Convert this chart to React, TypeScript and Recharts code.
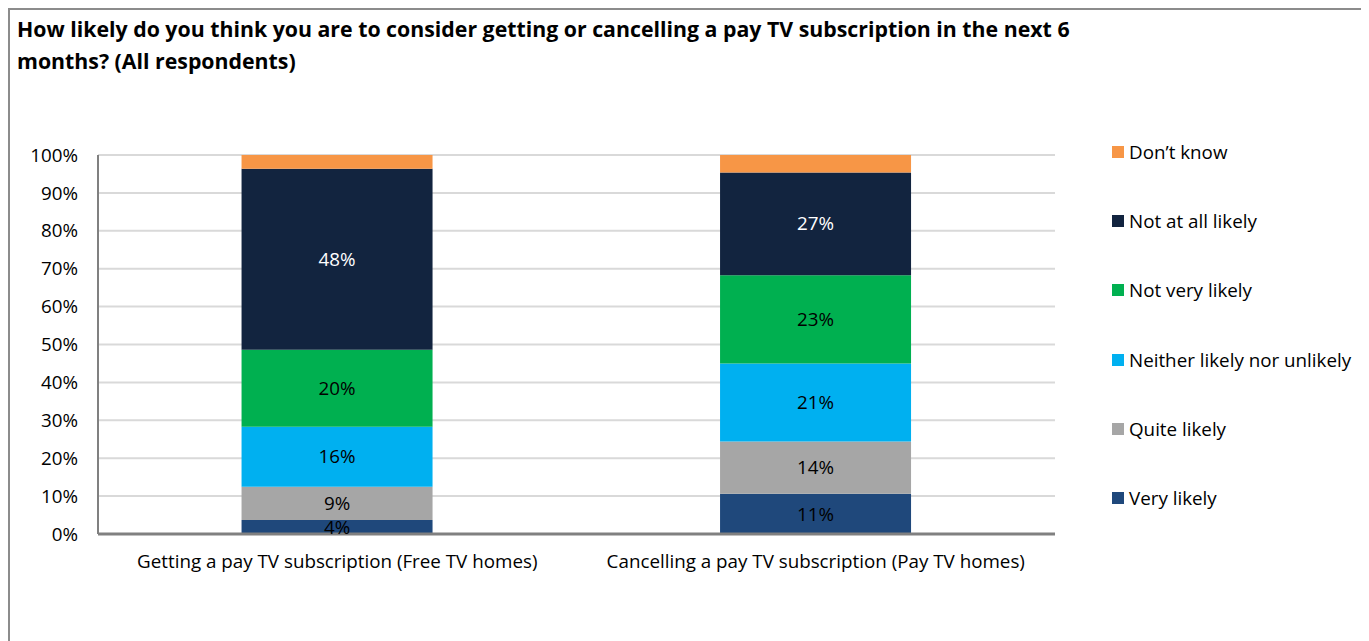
import { BarChart, Bar, XAxis, YAxis, CartesianGrid, LabelList } from 'recharts'

const CATEGORIES = [
  'Getting a pay TV subscription (Free TV homes)',
  'Cancelling a pay TV subscription (Pay TV homes)'
]

// stacked bottom to top
const VERY_LIKELY = [3.7, 10.6]
const QUITE_LIKELY = [8.8, 13.8]
const NEITHER = [15.8, 20.6]
const NOT_VERY = [20.3, 23.3]
const NOT_AT_ALL = [47.8, 27.1]
const DONT_KNOW = [3.6, 4.6]

const Y_TICKS = [0, 10, 20, 30, 40, 50, 60, 70, 80, 90, 100]

const SERIES = [
  { key: 'very', name: 'Very likely', values: VERY_LIKELY, color: '#1F487B', label: '#000000' },
  { key: 'quite', name: 'Quite likely', values: QUITE_LIKELY, color: '#A6A6A6', label: '#000000' },
  { key: 'neither', name: 'Neither likely nor unlikely', values: NEITHER, color: '#00B0F0', label: '#000000' },
  { key: 'notVery', name: 'Not very likely', values: NOT_VERY, color: '#00B050', label: '#000000' },
  { key: 'notAtAll', name: 'Not at all likely', values: NOT_AT_ALL, color: '#12243F', label: '#FFFFFF' },
  { key: 'dontKnow', name: 'Don\u2019t know', values: DONT_KNOW, color: '#F79646', label: null }
]

const data = CATEGORIES.map((name, i) => {
  const row: Record<string, string | number> = { name }
  SERIES.forEach(s => {
    row[s.key] = s.values[i]
  })
  return row
})

const FONT = '"Open Sans", Lato, sans-serif'
const FS = 18.8

const pct = (v: any) => `${Math.round(Number(v))}%`

export default function App() {
  return (
    <div
      style={{
        position: 'relative',
        width: 1352,
        height: 660,
        border: '2px solid #8c8c8c',
        fontFamily: FONT,
        background: '#fff'
      }}
    >
      <div
        style={{
          position: 'absolute',
          left: 7,
          top: 3,
          fontSize: 21.3,
          fontWeight: 700,
          lineHeight: '32px',
          color: '#000'
        }}
      >
        <div>How likely do you think you are to consider getting or cancelling a pay TV subscription in the next 6</div>
        <div>months? (All respondents)</div>
      </div>

      <div style={{ position: 'absolute', left: 0, top: 0 }}>
        <BarChart
          width={1352}
          height={620}
          data={data}
          margin={{ top: 145, right: 307, bottom: 56, left: 28 }}
          barCategoryGap='30%'
        >
          <CartesianGrid vertical={false} stroke='#D9D9D9' strokeWidth={2} />
          <XAxis
            dataKey='name'
            tickLine={false}
            axisLine={{ stroke: '#808080', strokeWidth: 3 }}
            tick={{ fill: '#000', fontSize: FS, fontFamily: FONT }}
            tickMargin={15}
            height={40}
          />
          <YAxis
            domain={[0, 100]}
            ticks={Y_TICKS}
            tickFormatter={(v: number) => `${v}%`}
            tickLine={false}
            axisLine={{ stroke: '#808080', strokeWidth: 2 }}
            tick={{ fill: '#000', fontSize: FS, fontFamily: FONT }}
            tickMargin={14}
            width={60}
            interval={0}
          />
          {SERIES.map(s => (
            <Bar key={s.key} dataKey={s.key} name={s.name} stackId='a' fill={s.color} isAnimationActive={false}>
              {s.label && (
                <LabelList
                  dataKey={s.key}
                  position='center'
                  formatter={pct}
                  fill={s.label}
                  style={{ fontSize: FS, fontFamily: FONT, fill: s.label }}
                />
              )}
            </Bar>
          ))}
        </BarChart>
      </div>

      <div style={{ position: 'absolute', left: 1102, top: 0 }}>
        {[...SERIES].reverse().map((s, i) => (
          <div
            key={s.key}
            style={{
              position: 'absolute',
              top: 142 + i * 69.2 - 14,
              height: 28,
              display: 'flex',
              alignItems: 'center',
              whiteSpace: 'nowrap',
              fontSize: FS,
              color: '#000'
            }}
          >
            <span style={{ width: 12, height: 12, background: s.color, marginRight: 5, display: 'inline-block' }} />
            <span>{s.name}</span>
          </div>
        ))}
      </div>
    </div>
  )
}
